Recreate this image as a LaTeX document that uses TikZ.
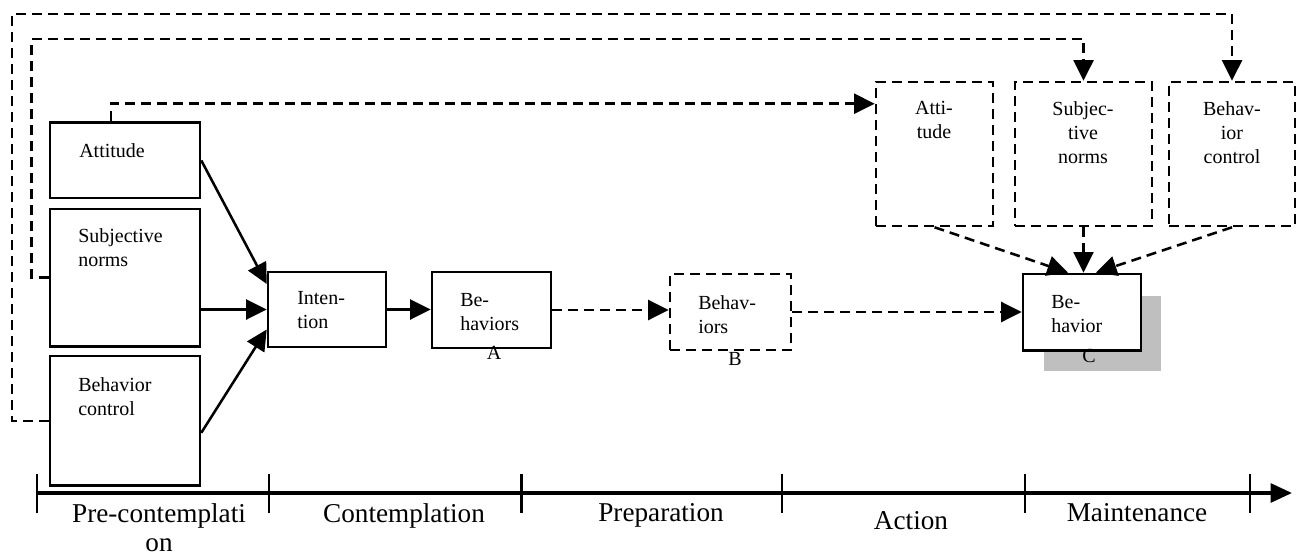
\documentclass[tikz,border=0pt]{standalone}
\usepackage{fontspec}
\setmainfont{Liberation Serif}
\usetikzlibrary{arrows.meta,calc}

\tikzset{every picture/.style={line width=1.9pt}}
\tikzset{
  box/.style={draw, inner sep=0pt},
  dbox/.style={box, dash pattern=on 7.5pt off 4.5pt},
  txt/.style={inner sep=0pt, align=left, font=\fontsize{15}{18}\selectfont},
  stage/.style={inner sep=0pt, align=center, font=\fontsize{20.4}{22}\selectfont, anchor=north},
  arr/.style={-{Triangle[length=15.5pt,width=15pt]}},
  darr/.style={arr, dash pattern=on 7.5pt off 4.5pt},
  tick/.style={line width=2pt}
}

\begin{document}
\begin{tikzpicture}[x=0.75pt,y=0.75pt,yscale=-1,xscale=1]
\useasboundingbox (0,0) rectangle (1298,556);

%Shape: Rectangle (first stage)
\node [box, minimum width=112.5pt, minimum height=56.7pt] (att) at (125,160.4) {};
\node [box, minimum width=112.5pt, minimum height=103.1pt] (sn) at (125,277.6) {};
\node [box, minimum width=112.5pt, minimum height=97.2pt] (bc) at (125,420.8) {};
\node [box, minimum width=88.5pt, minimum height=56.25pt] (int) at (327,309.5) {};
\node [box, minimum width=89.25pt, minimum height=57pt] (behA) at (491.5,310) {};
%Shape: Rectangle (dashed)
\node [dbox, minimum width=90.75pt, minimum height=57pt] (behB) at (730.5,312) {};
%Shape: Shadow + Rectangle
\fill [black!25] (1044,296) rectangle (1161,370.7);
\node [box, fill=white, minimum width=88.5pt, minimum height=57.4pt] (behC) at (1082,312.2) {};
%Shape: Rectangle (dashed, maintenance)
\node [dbox, minimum width=87.75pt, minimum height=108pt] (attR) at (934.5,154) {};
\node [dbox, minimum width=102.75pt, minimum height=108pt] (snR) at (1083.5,154) {};
\node [dbox, minimum width=94.5pt, minimum height=108pt] (bcR) at (1232,154) {};

% Text Node
\node [txt, anchor=north west] (attT) at (78,142) {Attitude};
\node [txt, anchor=north west] (snT) at (77,227) {Subjective\\norms};
\node [txt, anchor=north west] (bcT) at (77,376) {Behavior\\control};
\node [txt, anchor=north west] (intT) at (296,290) {Inten-\\tion};
\node [txt, anchor=north west] (behAT) at (459,292) {Be-\\haviors};
\node [txt, anchor=north west] (behBT) at (697,294) {Behav-\\iors};
\node [txt, anchor=north west] (behCT) at (1050,294) {Be-\\havior};
\node [txt, align=center, anchor=north] (attRT) at (934,100) {Atti-\\tude};
\node [txt, align=center, anchor=north] (snRT) at (1083,100) {Subjec-\\tive\\norms};
\node [txt, align=center, anchor=north] (bcRT) at (1232,100) {Behav-\\ior\\control};
\node [txt, anchor=north] (labA) at ($(behA.south)+(2.5,-4)$) {A};
\node [txt, anchor=north] (labB) at ($(behB.south)+(4.5,0)$) {B};
\node [txt, anchor=north] (labC) at ($(behC.south)+(7,-4)$) {C};

%Straight Lines
\draw [arr] (att.east) -- ($(int.west)+(0,-25.5)$);
\draw [arr] (sn.east |- int.west) -- (int.west);
\draw [arr] ($(bc.east)+(0,12)$) -- ($(int.west)+(0,20)$);
\draw [arr] (int.east) -- (int.east -| behA.west);
\draw [darr] (behA.east) -- (behA.east -| behB.west);
\draw [darr] (behB.east) -- (behB.east -| behC.west);
\draw [darr] (attR.south) -- ($(behC.north)+(-14,0)$);
\draw [darr] (snR.south) -- (snR.south |- behC.north);
\draw [darr] (bcR.south) -- ($(behC.north)+(14,0)$);

%Feedback Lines
\draw [darr] (bc.west) -| (12,14) -| (bcR.north);
\draw [darr] (sn.west) -| (31.5,39) -| (snR.north);
\draw [darr] ($(att.north)+(-14,0)$) |- ($(attR.north west)+(0,23)$);

%Shape: Axis
\coordinate (tl0) at (37,493);
\coordinate (tlEnd) at (1292,493);
\draw [line width=2.8pt, -{Triangle[length=16pt,width=14pt]}] (tl0) -- (tlEnd);
\draw [tick] (37,474) -- (37,513);
\draw [tick] (269,474) -- (269,513);
\draw [tick] (521.5,474) -- (521.5,513);
\draw [tick] (782,474) -- (782,513);
\draw [tick] (1025,474) -- (1025,513);
\draw [tick] (1250,474) -- (1250,513);

% Text Node
\node [stage] (pre) at (159,502) {Pre-contemplati\\on};
\node [stage] (con) at (404,502) {Contemplation};
\node [stage] (prep) at (661,502) {Preparation};
\node [stage] (act) at (911,510) {Action};
\node [stage] (main) at (1137,502) {Maintenance};

\end{tikzpicture}
\end{document}
